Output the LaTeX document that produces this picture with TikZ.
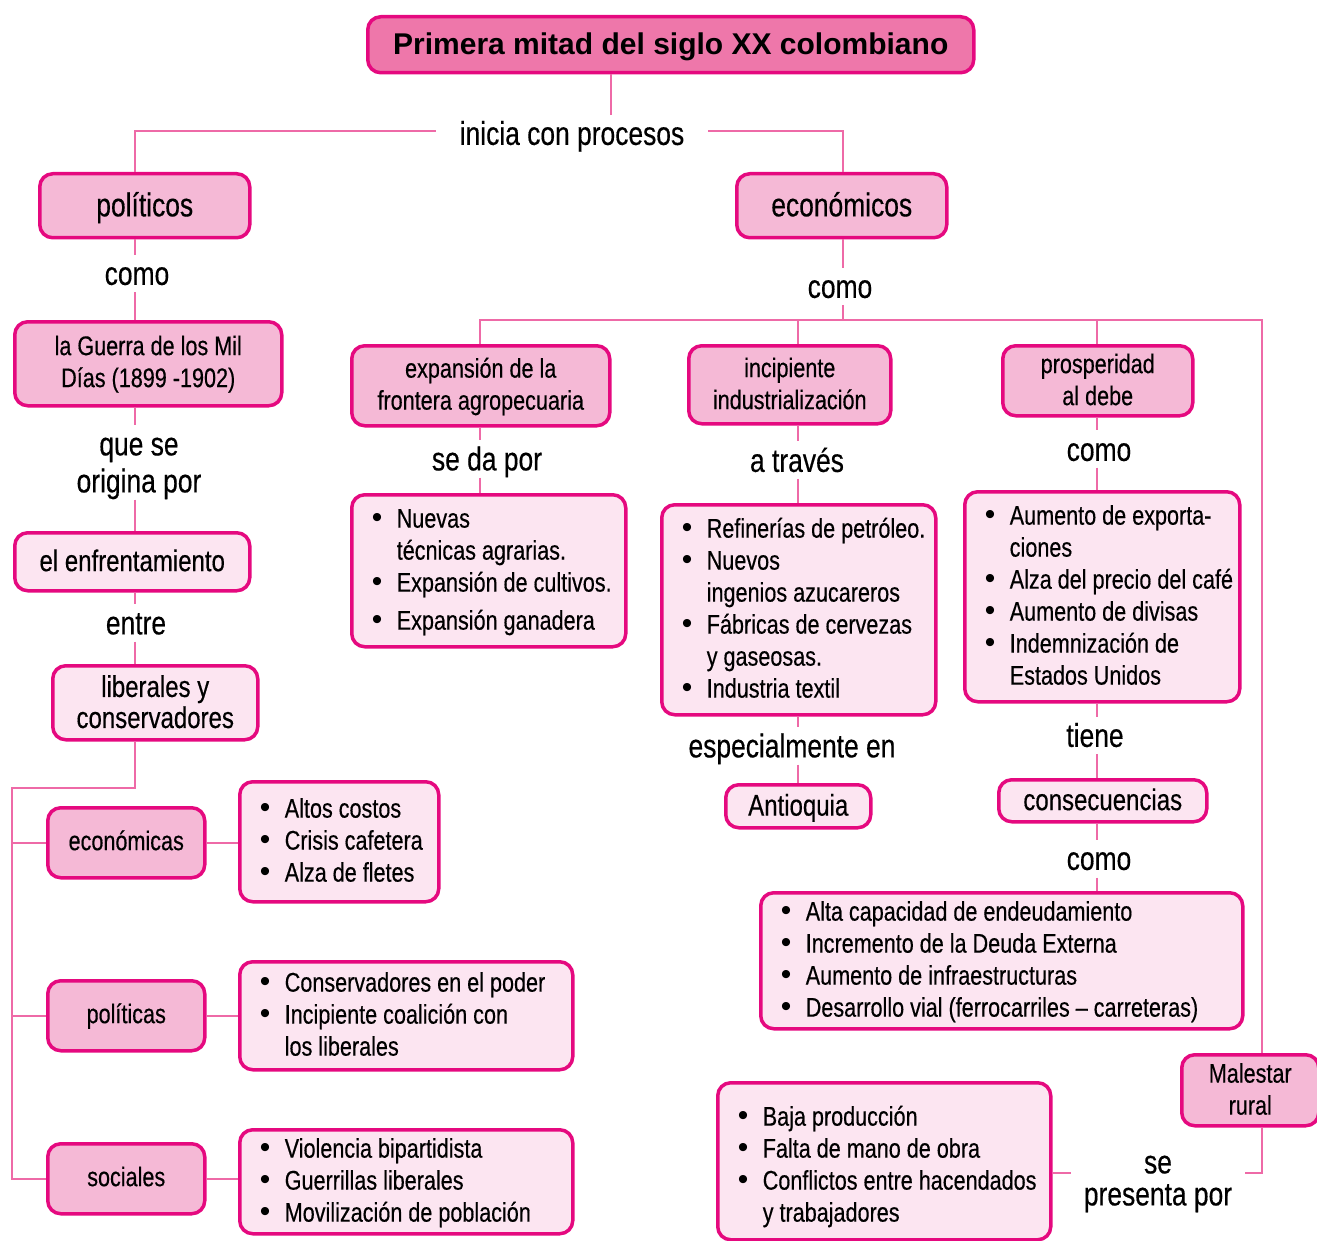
\documentclass[tikz,border=0pt]{standalone}
\usepackage{fontspec}
\setmainfont{Liberation Sans}[FakeStretch=0.8, FakeBold=0.4]
\newfontfamily\titlefont{Liberation Sans}
\newfontfamily\bulfont{Liberation Sans}
\definecolor{bord}{HTML}{E5097F}
\definecolor{conncol}{HTML}{EE6AA7}
\definecolor{dfill}{HTML}{F5B9D6}
\definecolor{lfill}{HTML}{FCE5F1}
\definecolor{tfill}{HTML}{EE77AA}
\newcommand\fsA{\fontsize{33}{38}\selectfont}
\newcommand\fsB{\fontsize{27}{32}\selectfont}
\newcommand\fsC{\fontsize{30}{32}\selectfont}
\newcommand\fsL{\fontsize{33}{37}\selectfont}
\newcommand\tl[2][2pt]{\raisebox{-#1}[\height][\depth]{\begin{tabular}{@{}c@{}}#2\end{tabular}}}
\newcommand\tlist[2][1.5pt]{\spaceskip=0pt\xspaceskip=0pt\raisebox{-#1}[\height][\depth]{\begin{tabular}{@{}l@{}}#2\end{tabular}}}
\newcommand\bi{\makebox[25pt][l]{\bulfont\fontsize{30}{32}\selectfont\textbullet}}
\newcommand\ci{\hspace*{25pt}}
\begin{document}
\begin{tikzpicture}[x=1pt,y=-1pt,
  box/.style={draw=bord, line width=3.5pt, rounded corners=13pt, anchor=north west, inner sep=0pt, text=black},
  dbox/.style={box, fill=dfill, font=\fsB},
  lbox/.style={box, fill=lfill, font=\fsC},
  bbox/.style={box, fill=lfill, font=\fsB, inner xsep=20pt, align=left},
  lab/.style={font=\fsL, inner sep=0pt, text=black},
  conn/.style={draw=conncol, line width=2.5pt}]
\useasboundingbox (0,0) rectangle (1317,1241);

% ---------- helper coordinates for connector lines
\coordinate (xT) at (611,0);
\coordinate (xL) at (135,0);
\coordinate (xE) at (843,0);
\coordinate (xA) at (480,0);
\coordinate (xI) at (798,0);
\coordinate (xP) at (1097,0);
\coordinate (xM) at (1262,0);
\coordinate (yI) at (0,131);
\coordinate (yS) at (0,1173);
\coordinate (jE) at (843,320);
\coordinate (jM) at (1262,320);
\coordinate (jB) at (12,788);

% ---------- boxes
\node[box, fill=tfill, font={\titlefont\bfseries\fontsize{30}{36}\selectfont}, minimum width=606, minimum height=56] (title) at (366,15) {\tl[3pt]{Primera mitad del siglo XX colombiano}};

\node[dbox, font=\fsA, minimum width=210, minimum height=64] (pol) at (38,172) {\tl[3pt]{políticos}};
\node[dbox, font=\fsA, minimum width=210, minimum height=64] (eco) at (735,172) {\tl[3pt]{económicos}};

\node[dbox, minimum width=267, minimum height=84] (guerra) at (13,320) {\tl[1pt]{la Guerra de los Mil\\Días (1899 -1902)}};
\node[lbox, minimum width=235, minimum height=58] (enfr) at (13,531) {\tl[3pt]{el enfrentamiento}};
\node[lbox, font={\fontsize{30}{31}\selectfont}, minimum width=205, minimum height=74] (lib) at (51,664) {\tl[3.5pt]{liberales y\\conservadores}};

\node[dbox, minimum width=157, minimum height=70] (ecn) at (46,806) {\tl[1pt]{económicas}};
\node[dbox, minimum width=157, minimum height=70] (polt) at (46,979) {\tl[1pt]{políticas}};
\node[dbox, minimum width=157, minimum height=70] (soc) at (46,1142) {\tl[1pt]{sociales}};

\node[bbox, minimum width=199, text width=159, minimum height=120] (b1) at (238,780)
  {\tlist{\bi Altos costos\\ \bi Crisis cafetera\\ \bi Alza de fletes}};
\node[bbox, minimum width=333, text width=293, minimum height=108] (b2) at (238,960)
  {\tlist{\bi Conservadores en el poder\\ \bi Incipiente coalición con\\ \ci los liberales}};
\node[bbox, minimum width=333, text width=293, minimum height=104] (b3) at (238,1128)
  {\tlist{\bi Violencia bipartidista\\ \bi Guerrillas liberales\\ \bi Movilización de población}};

\node[dbox, minimum width=258, minimum height=80] (exp) at (350,344) {\tl[1.5pt]{expansión de la\\frontera agropecuaria}};
\node[bbox, minimum width=274, text width=234, minimum height=152] (b4) at (350,493)
  {\tlist{\bi Nuevas\\ \ci técnicas agrarias.\\ \bi Expansión de cultivos.\\[6pt] \bi Expansión ganadera}};

\node[dbox, minimum width=202, minimum height=78] (inc) at (687,344) {\tl[2pt]{incipiente\\industrialización}};
\node[bbox, minimum width=274, text width=234, minimum height=210] (b5) at (660,503)
  {\tlist{\bi Refinerías de petróleo.\\ \bi Nuevos\\ \ci ingenios azucareros\\ \bi Fábricas de cervezas\\ \ci y gaseosas.\\ \bi Industria textil}};
\node[lbox, minimum width=145, minimum height=43] (ant) at (724,783) {\tl[3pt]{Antioquia}};

\node[dbox, minimum width=190, minimum height=70] (pros) at (1001,344) {\tl[2pt]{prosperidad\\al debe}};
\node[bbox, minimum width=275, text width=235, minimum height=210] (b6) at (963,490)
  {\tlist{\bi Aumento de exporta-\\ \ci ciones\\ \bi Alza del precio del café\\ \bi Aumento de divisas\\ \bi Indemnización de\\ \ci Estados Unidos}};
\node[lbox, minimum width=208, minimum height=42] (cons) at (997,778) {\tl[3pt]{consecuencias}};
\node[bbox, minimum width=482, text width=442, minimum height=136] (b7) at (759,891)
  {\tlist{\bi Alta capacidad de endeudamiento\\ \bi Incremento de la Deuda Externa\\ \bi Aumento de infraestructuras\\ \bi Desarrollo vial (ferrocarriles – carreteras)}};

\node[dbox, minimum width=137, minimum height=71] (mal) at (1180,1053) {\tl[2pt]{Malestar\\rural}};
\node[bbox, minimum width=333, text width=293, minimum height=157] (b8) at (716,1081)
  {\tlist[6pt]{\bi Baja producción\\ \bi Falta de mano de obra\\ \bi Conflictos entre hacendados\\ \ci y trabajadores}};

% ---------- linking phrases
\node[lab, inner xsep=24pt] (ini) at (572,133.5) {\tl[4pt]{inicia con procesos}};
\node[lab] (como1) at (137,273.5) {\tl[4pt]{como}};
\node[lab] (quese) at (139,462.5) {\tl[4pt]{que se\\origina por}};
\node[lab] (entre) at (136,623) {\tl[4pt]{entre}};
\node[lab] (como2) at (840,286.5) {\tl[4pt]{como}};
\node[lab] (seda) at (487,459) {\tl[4pt]{se da por}};
\node[lab] (atraves) at (797,460) {\tl[4.5pt]{a través}};
\node[lab] (espec) at (792,746) {\tl[4pt]{especialmente en}};
\node[lab] (como3) at (1099,449) {\tl[4.5pt]{como}};
\node[lab] (tiene) at (1095,735.5) {\tl[4pt]{tiene}};
\node[lab] (como4) at (1099,859) {\tl[3.5pt]{como}};
\node[lab, font={\fontsize{33}{32}\selectfont}, inner xsep=13pt] (sep) at (1158,1180) {\tl[3pt]{se\\presenta por}};

% ---------- connectors
\draw[conn] (title.south -| xT) -- (ini.north -| xT);
\draw[conn] (ini.west |- yI) -| (pol.north -| xL);
\draw[conn] (ini.east |- yI) -| (eco.north -| xE);

\draw[conn] (pol.south -| xL) -- (como1.north -| xL);
\draw[conn] (como1.south -| xL) -- (guerra.north -| xL);
\draw[conn] (guerra.south -| xL) -- (quese.north -| xL);
\draw[conn] (quese.south -| xL) -- (enfr.north -| xL);
\draw[conn] (enfr.south -| xL) -- (entre.north -| xL);
\draw[conn] (entre.south -| xL) -- (lib.north -| xL);
\draw[conn] (lib.south -| xL) |- (jB) -- (jB |- soc.west) -- (soc.west);
\draw[conn] (jB |- ecn.west) -- (ecn.west);
\draw[conn] (jB |- polt.west) -- (polt.west);
\draw[conn] (ecn.east) -- (b1.west |- ecn.east);
\draw[conn] (polt.east) -- (b2.west |- polt.east);
\draw[conn] (soc.east) -- (b3.west |- soc.east);

\draw[conn] (eco.south -| xE) -- (como2.north -| xE);
\draw[conn] (como2.south -| xE) -- (jE);
\draw[conn] (exp.north -| xA) |- (jM) -- (mal.north -| jM);
\draw[conn] (inc.north -| xI) -- (xI |- jE);
\draw[conn] (pros.north -| xP) -- (xP |- jE);

\draw[conn] (exp.south -| xA) -- (seda.north -| xA);
\draw[conn] (seda.south -| xA) -- (b4.north -| xA);

\draw[conn] (inc.south -| xI) -- (atraves.north -| xI);
\draw[conn] (atraves.south -| xI) -- (b5.north -| xI);
\draw[conn] (b5.south -| xI) -- (espec.north -| xI);
\draw[conn] (espec.south -| xI) -- (ant.north -| xI);

\draw[conn] (pros.south -| xP) -- (como3.north -| xP);
\draw[conn] (como3.south -| xP) -- (b6.north -| xP);
\draw[conn] (b6.south -| xP) -- (tiene.north -| xP);
\draw[conn] (tiene.south -| xP) -- (cons.north -| xP);
\draw[conn] (cons.south -| xP) -- (como4.north -| xP);
\draw[conn] (como4.south -| xP) -- (b7.north -| xP);

\draw[conn] (mal.south -| xM) |- (sep.east |- yS);
\draw[conn] (sep.west |- yS) -- (b8.east |- yS);
\end{tikzpicture}
\end{document}
